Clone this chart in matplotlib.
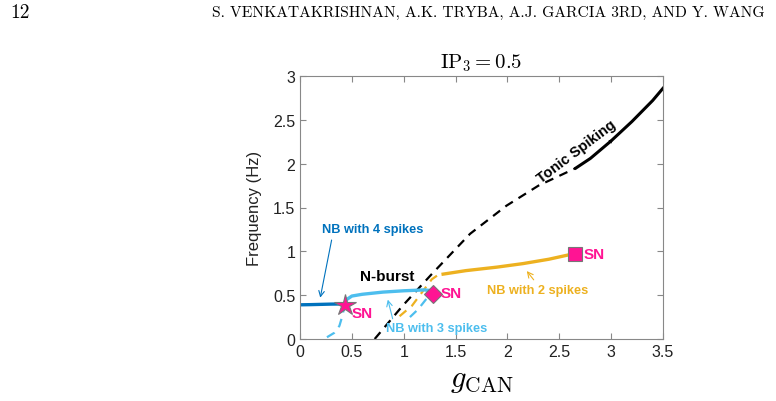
import matplotlib
matplotlib.use("Agg")
import matplotlib.pyplot as plt
import numpy as np

plt.rcParams['font.family'] = ['Liberation Sans', 'DejaVu Sans']
plt.rcParams['mathtext.fontset'] = 'cm'

# ---- data ----
tonic_x = [2.66, 2.8, 3.0, 3.2, 3.4, 3.5]
tonic_y = [1.95, 2.06, 2.26, 2.48, 2.72, 2.86]

tonic_dash_x = [0.72, 0.99, 1.27, 1.64, 1.99, 2.3, 2.66]
tonic_dash_y = [0.0, 0.38, 0.74, 1.2, 1.52, 1.75, 1.95]

nb4_x = [0.0, 0.1, 0.2, 0.3, 0.43]
nb4_y = [0.39, 0.392, 0.395, 0.398, 0.40]

nb3_x = [0.45, 0.5, 0.6, 0.8, 1.0, 1.2, 1.28]
nb3_y = [0.45, 0.49, 0.51, 0.535, 0.55, 0.56, 0.55]

nb4_dash_x = [0.26, 0.33, 0.38, 0.41, 0.43]
nb4_dash_y = [0.02, 0.07, 0.15, 0.27, 0.38]

nb3_dash_x = [1.06, 1.14, 1.22, 1.27]
nb3_dash_y = [0.25, 0.34, 0.46, 0.51]

nb2_x = [1.38, 1.6, 1.9, 2.15, 2.4, 2.63]
nb2_y = [0.74, 0.78, 0.82, 0.86, 0.91, 0.97]

nb2_dash_x = [0.96, 1.08, 1.2, 1.27, 1.33, 1.38]
nb2_dash_y = [0.26, 0.38, 0.57, 0.68, 0.73, 0.74]

sn_x = [0.43, 1.28, 2.65]
sn_y = [0.39, 0.51, 0.97]
sn_markers = ['*', 'D', 's']

xticks = [0, 0.5, 1, 1.5, 2, 2.5, 3, 3.5]
yticks = [0, 0.5, 1, 1.5, 2, 2.5, 3]

DARK_BLUE = '#0072BD'
LIGHT_BLUE = '#4DBEEE'
ORANGE = '#EDB120'
MAGENTA = '#FF1493'

fig = plt.figure(figsize=(7.76, 4.02), dpi=100)
ax = fig.add_axes([300/776, 62/402, 363/776, 263/402])

ax.plot(tonic_dash_x, tonic_dash_y, '--', color='black', lw=1.6, dashes=(4, 3))
ax.plot(tonic_x, tonic_y, '-', color='black', lw=2.2)
ax.annotate('', xy=(3.02, 2.28), xytext=(2.98, 2.24),
            arrowprops=dict(arrowstyle='-|>', color='black', lw=0, mutation_scale=8))

ax.plot(nb4_dash_x, nb4_dash_y, '--', color=LIGHT_BLUE, lw=1.6, dashes=(4, 3))
ax.plot(nb3_dash_x, nb3_dash_y, '--', color=LIGHT_BLUE, lw=1.6, dashes=(4, 3))
ax.plot(nb2_dash_x, nb2_dash_y, '--', color=ORANGE, lw=1.6, dashes=(4, 3))
ax.plot(nb4_x, nb4_y, '-', color=DARK_BLUE, lw=2.4)
ax.plot(nb3_x, nb3_y, '-', color=LIGHT_BLUE, lw=2.4)
ax.plot(nb2_x, nb2_y, '-', color=ORANGE, lw=2.4)

sizes = [16, 9, 10]
for x, y, m, s in zip(sn_x, sn_y, sn_markers, sizes):
    ax.plot(x, y, marker=m, markersize=s, color=MAGENTA, markeredgecolor='#777777',
            markeredgewidth=0.8, linestyle='none')

bold = dict(fontweight='bold', fontsize=9.2)
ax.text(0.5, 0.30, 'SN', color=MAGENTA, fontsize=11, fontweight='bold', va='center')
ax.text(1.36, 0.52, 'SN', color=MAGENTA, fontsize=11, fontweight='bold', va='center')
ax.text(2.73, 0.97, 'SN', color=MAGENTA, fontsize=11, fontweight='bold', va='center')

ax.text(0.21, 1.25, 'NB with 4 spikes', color=DARK_BLUE, va='center', ha='left', **bold)
ax.annotate('', xy=(0.19, 0.44), xytext=(0.31, 1.16),
            arrowprops=dict(arrowstyle='->', color=DARK_BLUE, lw=0.8))
ax.text(0.58, 0.72, 'N-burst', color='black', va='center', ha='left', fontweight='bold', fontsize=11)
ax.text(1.32, 0.13, 'NB with 3 spikes', color=LIGHT_BLUE, va='center', ha='center', **bold)
ax.annotate('', xy=(0.84, 0.48), xytext=(0.9, 0.2),
            arrowprops=dict(arrowstyle='->', color=LIGHT_BLUE, lw=0.8))
ax.text(2.29, 0.56, 'NB with 2 spikes', color=ORANGE, va='center', ha='center', **bold)
ax.annotate('', xy=(2.17, 0.8), xytext=(2.27, 0.65),
            arrowprops=dict(arrowstyle='->', color=ORANGE, lw=0.8))
ax.text(2.67, 2.15, 'Tonic Spiking', color='black', rotation=37, va='center', ha='center',
        fontweight='bold', fontsize=10.5)

ax.set_xlim(0, 3.5)
ax.set_ylim(0, 3)
ax.set_xticks(xticks)
ax.set_yticks(yticks)
ax.set_xticklabels([f'{t:g}' for t in xticks])
ax.set_yticklabels([f'{t:g}' for t in yticks])
ax.tick_params(direction='in', top=True, right=True, length=4, color='#888888',
               labelsize=11.5, labelcolor='#222222')
for sp in ax.spines.values():
    sp.set_color('#888888')
    sp.set_linewidth(0.8)

ax.set_ylabel('Frequency (Hz)', fontsize=12, color='#222222', labelpad=8)
ax.set_xlabel(r'$g_{\mathrm{CAN}}$', fontsize=22, labelpad=4)
ax.set_title(r'$\mathrm{IP}_3 = 0.5$', fontsize=15, pad=6)

fig.text(10/776, 1 - 13/402, '12', fontsize=14, family='cmr10', va='center', ha='left')
fig.text(765/776, 1 - 13/402, 'S. VENKATAKRISHNAN, A.K. TRYBA, A.J. GARCIA 3RD, AND Y. WANG',
         fontsize=11.2, family='cmr10', va='center', ha='right')

fig.savefig('out.png', dpi=100)
